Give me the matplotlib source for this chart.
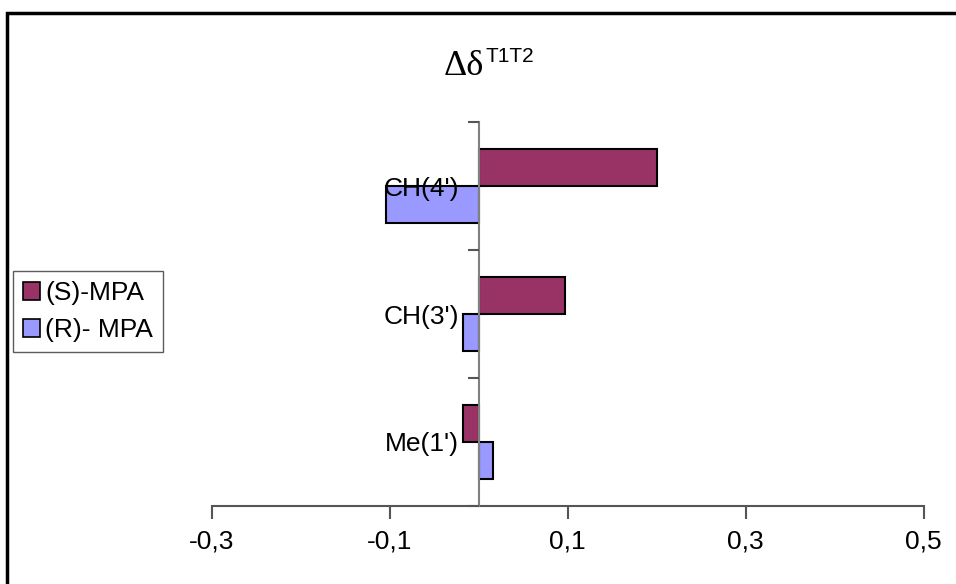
import matplotlib
matplotlib.use("Agg")
import matplotlib.pyplot as plt
from matplotlib.patches import Rectangle, Patch
import numpy as np

categories = ["Me(1')", "CH(3')", "CH(4')"]
s_mpa = [-0.018, 0.097, 0.200]
r_mpa = [0.016, -0.018, -0.104]
series_names = ["(S)-MPA", "(R)- MPA"]
x_ticks = [-0.3, -0.1, 0.1, 0.3, 0.5]

plt.rcParams["font.family"] = ["Liberation Sans", "DejaVu Sans"]

W, H = 956, 584
fig = plt.figure(figsize=(W / 100, H / 100), dpi=100)

def fx(px):
    return px / W

def fy(py):
    return 1 - py / H

ax = fig.add_axes([fx(212), fy(506), fx(923.5) - fx(212), fy(122) - fy(506)])

pos = np.arange(len(categories))
h = 0.29
ax.barh(pos + h / 2, s_mpa, height=h, color="#993366", edgecolor="black",
        linewidth=1.5, label=series_names[0], zorder=3)
ax.barh(pos - h / 2, r_mpa, height=h, color="#9999FF", edgecolor="black",
        linewidth=1.5, label=series_names[1], zorder=3)

ax.set_xlim(-0.3, 0.5)
ax.set_ylim(-0.5, len(categories) - 0.5)

for side in ("top", "right"):
    ax.spines[side].set_visible(False)
ax.spines["left"].set_position(("data", 0))
ax.spines["left"].set_color("#808080")
ax.spines["left"].set_linewidth(1.5)
ax.spines["left"].set_zorder(4)
ax.spines["bottom"].set_color("#555555")
ax.spines["bottom"].set_linewidth(1.5)

FS = 19

ax.set_xticks(x_ticks)
ax.set_xticklabels([f"{v:.1f}".replace(".", ",") for v in x_ticks])
ax.tick_params(axis="x", direction="out", length=9, width=1.5, color="#555555",
               labelsize=FS, pad=8)

ax.set_yticks(np.arange(-0.5, len(categories), 1.0))
ax.set_yticklabels([])
ax.tick_params(axis="y", which="major", direction="out", length=8, width=1.5,
               color="#555555")
ax.set_yticks(pos, minor=True)
ax.set_yticklabels(categories, minor=True)
ax.tick_params(axis="y", which="minor", length=0, labelsize=FS, pad=14)
ax.yaxis.set_zorder(5)

# title: delta-delta with superscript
fig.text(fx(444), fy(75), "\u0394\u03b4", fontsize=26, family="Liberation Serif",
         ha="left", va="baseline")
fig.text(fx(485), fy(62), "T1T2", fontsize=15, family="Liberation Sans",
         ha="left", va="baseline")

# legend on the left
handles = [Patch(facecolor="#993366", edgecolor="black", linewidth=1.2),
           Patch(facecolor="#9999FF", edgecolor="black", linewidth=1.2)]
leg = fig.legend(handles, series_names, loc="upper left",
                 bbox_to_anchor=(fx(13), fy(271)), fontsize=FS,
                 frameon=True, fancybox=False, edgecolor="#333333",
                 handlelength=0.65, handleheight=0.65, handletextpad=0.2,
                 borderpad=0.38, labelspacing=0.5, borderaxespad=0)
leg.get_frame().set_linewidth(1.0)

# outer frame
fig.patches.append(Rectangle((fx(7), fy(600)), fx(1000), fy(13) - fy(600),
                             transform=fig.transFigure, fill=False,
                             edgecolor="black", linewidth=2.5))

fig.savefig("out.png", dpi=100)
